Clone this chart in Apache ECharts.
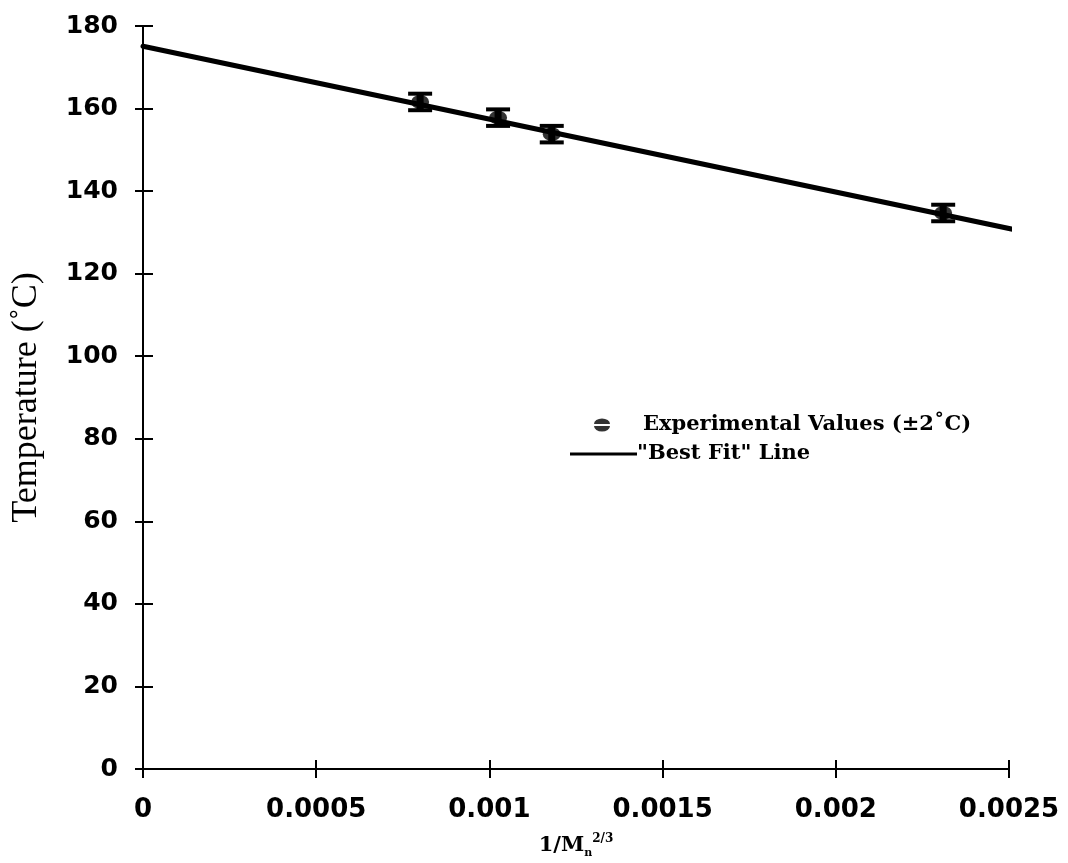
<!DOCTYPE html>
<html>
<head>
<meta charset="utf-8">
<title>Temperature vs 1/Mn^2/3</title>
<script src="https://cdn.jsdelivr.net/npm/echarts@6/dist/echarts.min.js"></script>
<style>
  html, body { margin: 0; padding: 0; background: #ffffff; }
  #chart { width: 1068px; height: 863px; }
</style>
</head>
<body>
<div id="chart"></div>
<script>
// Measured transition temperatures (°C) against 1/Mn^(2/3)
const expX = [0.0008, 0.001025, 0.00118, 0.00231];
const expY = [161.6, 157.8, 153.8, 134.7];
const expErr = [2, 2, 2, 2];

// End points of the "best fit" line
const fitX = [0, 0.00252];
const fitY = [175.1, 130.6];

// Axis tick labels
const xTickLabels = ['0', '0.0005', '0.001', '0.0015', '0.002', '0.0025'];
const yTickValues = [0, 20, 40, 60, 80, 100, 120, 140, 160, 180];

const expName = 'Experimental Values (\u00B12\u02DAC)';
const fitName = '"Best Fit" Line';

const chart = echarts.init(document.getElementById('chart'), null, { renderer: 'canvas' });

const tickFont = { fontFamily: 'DejaVu Sans', fontWeight: 'bold', fontSize: 25, color: '#000' };
const axisLine = { show: true, lineStyle: { color: '#000', width: 2 } };

const option = {
  backgroundColor: '#ffffff',
  animation: false,
  grid: { left: 143, right: 59, top: 26, bottom: 94, containLabel: false, outerBoundsMode: 'none' },
  legend: [
    {
      data: [{ name: expName, icon: 'path://M0,5.4 A8,5.4 0 0 1 16,5.4 Z M0,7.6 A8,5.4 0 0 0 16,7.6 Z' }],
      left: 594, top: 413, orient: 'vertical', padding: 0,
      itemWidth: 16, itemHeight: 13,
      selectedMode: false,
      textStyle: { fontFamily: 'DejaVu Serif', fontWeight: 'bold', fontSize: 21, color: '#000', lineHeight: 24, padding: [0, 0, 0, 28] }
    },
    {
      data: [{ name: fitName, icon: 'rect' }],
      left: 570, top: 442, orient: 'vertical', padding: 0,
      itemWidth: 67, itemHeight: 3,
      selectedMode: false,
      itemStyle: { color: '#000' },
      textStyle: { fontFamily: 'DejaVu Serif', fontWeight: 'bold', fontSize: 21, color: '#000', lineHeight: 24, padding: [0, 0, 0, -5] }
    }
  ],
  xAxis: [
    {
      type: 'value', min: 0, max: 0.0025, interval: 0.0005,
      axisLine: axisLine,
      axisTick: { show: true, inside: false, length: 9, lineStyle: { color: '#000', width: 2 } },
      splitLine: { show: false },
      axisLabel: {
        margin: 28,
        ...tickFont,
        fontSize: 26,
        formatter: (v, i) => xTickLabels[i]
      },
      name: '{a|1/M}{sub|n}{sup|2/3}',
      nameLocation: 'middle',
      nameGap: 64,
      nameTextStyle: {
        rich: {
          a: { fontFamily: 'DejaVu Serif', fontWeight: 'bold', fontSize: 21, color: '#000', lineHeight: 26 },
          sub: { fontFamily: 'DejaVu Serif', fontWeight: 'bold', fontSize: 11, color: '#000', verticalAlign: 'bottom', lineHeight: 13 },
          sup: { fontFamily: 'DejaVu Serif', fontWeight: 'bold', fontSize: 12, color: '#000', verticalAlign: 'top', lineHeight: 13 }
        }
      }
    },
    {
      type: 'value', min: 0, max: 0.0025, interval: 0.0005, position: 'bottom',
      axisLine: { show: false },
      axisTick: { show: true, inside: true, length: 9, lineStyle: { color: '#000', width: 2 } },
      axisLabel: { show: false },
      splitLine: { show: false }
    }
  ],
  yAxis: [
    {
      type: 'value', min: 0, max: 180, interval: 20,
      axisLine: axisLine,
      axisTick: { show: true, inside: false, length: 8, lineStyle: { color: '#000', width: 2 } },
      splitLine: { show: false },
      axisLabel: {
        margin: 25,
        ...tickFont,
        formatter: (v) => (yTickValues.indexOf(v) >= 0 ? String(v) : '')
      },
      name: 'Temperature (\u02DAC)',
      nameLocation: 'middle',
      nameRotate: 90,
      nameGap: 98,
      nameTextStyle: { fontFamily: 'Liberation Serif', fontSize: 36, color: '#000' }
    },
    {
      type: 'value', min: 0, max: 180, interval: 20, position: 'left',
      axisLine: { show: false },
      axisTick: { show: true, inside: true, length: 10, lineStyle: { color: '#000', width: 2 } },
      axisLabel: { show: false },
      splitLine: { show: false }
    }
  ],
  series: [
    {
      name: expName,
      type: 'scatter',
      xAxisIndex: 0, yAxisIndex: 0,
      data: expX.map((x, i) => [x, expY[i]]),
      symbol: 'circle',
      symbolSize: [18, 14],
      itemStyle: { color: '#000' },
      z: 2
    },
    {
      name: 'error',
      type: 'custom',
      xAxisIndex: 0, yAxisIndex: 0,
      data: expX.map((x, i) => [x, expY[i], expErr[i]]),
      renderItem: (params, api) => {
        const x = api.value(0), y = api.value(1), e = api.value(2);
        const top = api.coord([x, y + e]);
        const bot = api.coord([x, y - e]);
        const half = 12;
        const style = { stroke: '#000', lineWidth: 4 };
        return {
          type: 'group',
          children: [
            { type: 'line', shape: { x1: top[0], y1: top[1], x2: bot[0], y2: bot[1] }, style: { stroke: '#000', lineWidth: 7 } },
            { type: 'line', shape: { x1: top[0] - half, y1: top[1], x2: top[0] + half, y2: top[1] }, style },
            { type: 'line', shape: { x1: bot[0] - half, y1: bot[1], x2: bot[0] + half, y2: bot[1] }, style }
          ]
        };
      },
      z: 2,
      silent: true
    },
    {
      name: fitName,
      type: 'line',
      xAxisIndex: 0, yAxisIndex: 0,
      data: fitX.map((x, i) => [x, fitY[i]]),
      showSymbol: false,
      symbol: 'none',
      clip: false,
      lineStyle: { color: '#000', width: 5, cap: 'round' },
      itemStyle: { color: '#000' },
      z: 3
    }
  ]
};

chart.setOption(option);
</script>
</body>
</html>
